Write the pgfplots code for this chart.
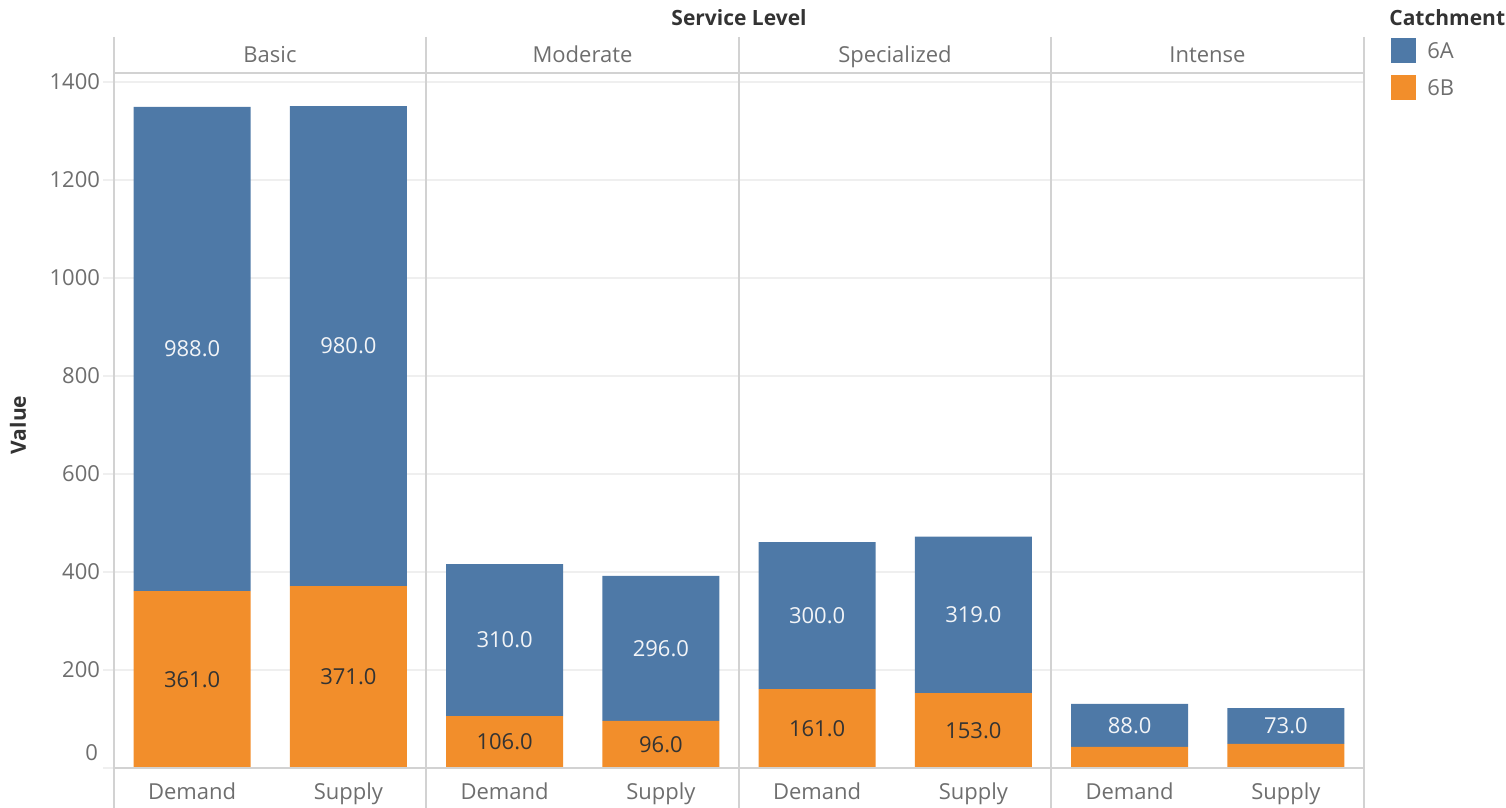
\documentclass[border=0pt]{standalone}
\usepackage{fontspec}
\setmainfont{Open Sans}
\usepackage{pgfplots}
\pgfplotsset{compat=1.18}

\definecolor{blueA}{HTML}{4E79A7}
\definecolor{orangeB}{HTML}{F28E2B}
\definecolor{txtc}{HTML}{6E6E6E}
\definecolor{darkc}{HTML}{333333}
\definecolor{rulec}{HTML}{D2D2D2}
\definecolor{gridc}{HTML}{EFEFEF}
\definecolor{lightlbl}{HTML}{F2F4F7}

\newcommand{\lblfont}{\fontsize{11}{13}\selectfont}

\pgfplotsset{
  panelaxis/.style={
    at={(57pt,20pt)}, anchor=south west,
    width=625pt, height=347.5pt, scale only axis,
    xmin=0, xmax=8, ymin=0, ymax=1418.4, clip=false,
  },
}

\begin{document}
\begin{tikzpicture}[x=0.5pt,y=0.5pt]
\useasboundingbox (0,0) rectangle (1506,808);
\begin{axis}[
  panelaxis,
  ybar stacked, bar width=0.75,
  xtick={0.5,1.5,2.5,3.5,4.5,5.5,6.5,7.5},
  xticklabels={Demand,Supply,Demand,Supply,Demand,Supply,Demand,Supply},
  ytick={0,200,...,1400},
  yticklabels={{},200,400,600,800,1000,1200,1400},
  ymajorgrids, grid style={draw=gridc, line width=0.8pt},
  ytick pos=left, tick align=outside,
  major tick length=5.5pt,
  xtick style={draw=none},
  ytick style={draw=gridc, line width=0.8pt},
  axis line style={draw=none},
  tick label style={font=\lblfont, text=txtc},
  xticklabel style={anchor=base, yshift=-10.5pt},
  yticklabel style={xshift=2pt},
]
% 6B
\addplot[fill=orangeB, draw=none] coordinates {
  (0.5,361) (1.5,371) (2.5,106) (3.5,96) (4.5,161) (5.5,153) (6.5,43) (7.5,49)};
% 6A
\addplot[fill=blueA, draw=none] coordinates {
  (0.5,988) (1.5,980) (2.5,310) (3.5,296) (4.5,300) (5.5,319) (6.5,88) (7.5,73)};
\end{axis}

% segment labels, placed at the middle of each segment
\begin{axis}[panelaxis, hide axis]
\addplot[draw=none, mark=none, nodes near coords, point meta=explicit symbolic,
  nodes near coords align=center,
  every node near coord/.append style={font=\lblfont, text=darkc, anchor=center}]
  coordinates {
  (0.5,180.5)[361.0] (1.5,185.5)[371.0] (2.5,53)[106.0]
  (3.5,48)[96.0] (4.5,80.5)[161.0] (5.5,76.5)[153.0]};
\addplot[draw=none, mark=none, nodes near coords, point meta=explicit symbolic,
  nodes near coords align=center,
  every node near coord/.append style={font=\lblfont, text=lightlbl, anchor=center}]
  coordinates {
  (0.5,855)[988.0] (1.5,861)[980.0] (2.5,261)[310.0] (3.5,244)[296.0]
  (4.5,311)[300.0] (5.5,312.5)[319.0] (6.5,87)[88.0] (7.5,85.5)[73.0]};
\end{axis}

% panel frame
\foreach \xx in {114,426,739,1051,1364}
  \draw[rulec, line width=1pt] (\xx,771) -- (\xx,0);
\draw[rulec, line width=1pt] (114,735) -- (1364,735);
\draw[rulec, line width=1pt] (114,40) -- (1364,40);

% zero tick label (set a little above the line)
\node[font=\lblfont, text=txtc, anchor=east] at (105,55) {0};

% panel headers
\node[font=\lblfont, text=txtc, anchor=base] at (270,745) {Basic};
\node[font=\lblfont, text=txtc, anchor=base] at (582.5,745) {Moderate};
\node[font=\lblfont, text=txtc, anchor=base] at (895,745) {Specialized};
\node[font=\lblfont, text=txtc, anchor=base] at (1207.5,745) {Intense};

% titles
\node[font=\fontsize{10.5}{12}\selectfont\bfseries, text=darkc] at (739,790) {Service Level};
\node[font=\fontsize{10.5}{12}\selectfont\bfseries, text=darkc, rotate=90] at (18,383) {Value};

% legend
\node[font=\fontsize{10.5}{12}\selectfont\bfseries, text=darkc, anchor=west, inner sep=0pt] at (1389,790) {Catchment};
\fill[blueA] (1391,770) rectangle (1416,745);
\fill[orangeB] (1391,733) rectangle (1416,708);
\node[font=\lblfont, text=txtc, anchor=west, inner sep=0pt] at (1427,757) {6A};
\node[font=\lblfont, text=txtc, anchor=west, inner sep=0pt] at (1427,720) {6B};
\end{tikzpicture}
\end{document}
